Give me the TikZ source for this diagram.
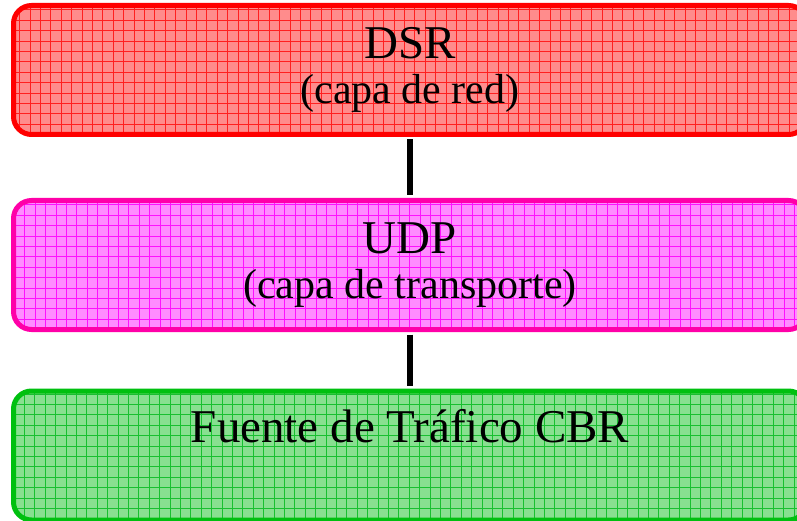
\documentclass[tikz,border=0pt]{standalone}
\usepackage{fontspec}
\setmainfont{Liberation Serif}

\definecolor{RedLine}{HTML}{FF0000}
\definecolor{RedFill}{HTML}{FF8C8C}
\definecolor{RedGrid}{HTML}{FF2020}
\definecolor{PinkLine}{HTML}{FF00A8}
\definecolor{PinkFill}{HTML}{FF8CFF}
\definecolor{PinkGrid}{HTML}{FF10FF}
\definecolor{GreenLine}{HTML}{00C010}
\definecolor{GreenFill}{HTML}{88E090}
\definecolor{GreenGrid}{HTML}{18C030}

\newcommand\LayerName[1]{{\fontsize{47}{50}\selectfont #1}}

\begin{document}
\begin{tikzpicture}[x=1pt,y=1pt]
	\tikzset{Layer/.style n args={3}{rectangle,rounded corners=18pt,line width=5pt,
		draw=#1,fill=#2,minimum width=793pt,minimum height=129pt,inner sep=0pt,
		align=center,font=\fontsize{42}{45}\selectfont,
		path picture={\draw[#3,line width=1pt,sharp corners]
			(path picture bounding box.south west) grid[step=10.4pt]
			(path picture bounding box.north east);}}}
	\tikzstyle{Link} = [line width=6pt,black,shorten <=2.5pt,shorten >=2.5pt]
	\useasboundingbox (0,0) rectangle (797,-521);
	\node[Layer={RedLine}{RedFill}{RedGrid}] (dsr) at (410,-70)
		{\LayerName{DSR}\\(capa de red)};
	\node[Layer={PinkLine}{PinkFill}{PinkGrid}] (udp) at (410,-265)
		{\LayerName{UDP}\\(capa de transporte)};
	\node[Layer={GreenLine}{GreenFill}{GreenGrid}] (cbr) at (410,-455.5)
		{\LayerName{Fuente de Tráfico CBR}\\\strut};
	\draw[Link] (dsr.south) -- (udp.north);
	\draw[Link] (udp.south) -- (cbr.north);
\end{tikzpicture}
\end{document}
